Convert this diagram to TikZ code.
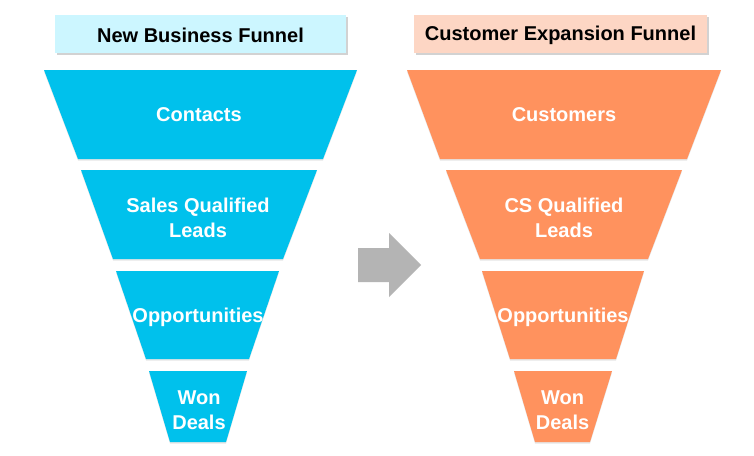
\documentclass[tikz,border=0pt]{standalone}
\usepackage{fontspec}
\setmainfont{Liberation Sans}
\usetikzlibrary{shadows}
\definecolor{funcyan}{RGB}{0,193,236}
\definecolor{funorange}{RGB}{255,146,94}
\definecolor{titlecyan}{RGB}{204,246,255}
\definecolor{titleorange}{RGB}{253,214,196}
\definecolor{arrowgray}{RGB}{180,180,180}
\tikzset{
  titlebox/.style={fill=#1, drop shadow={shadow xshift=2pt, shadow yshift=-2pt, opacity=0.35}},
  stage/.style={fill=#1, drop shadow={shadow xshift=0pt, shadow yshift=-1.5pt, opacity=0.2}},
  titletext/.style={font=\fontsize{20}{24}\selectfont\bfseries, text=black, inner sep=0pt},
  stagetext/.style={font=\fontsize{20}{25}\selectfont\bfseries, text=white, align=center, inner sep=0pt}
}
\begin{document}
\begin{tikzpicture}[x=1pt,y=-1pt]
\useasboundingbox (0,0) rectangle (754,455);
\fill[white] (0,0) rectangle (754,455);
% left title
\path[titlebox=titlecyan] (55,15) rectangle (346,53);
\node[titletext] (t1) at (200.5,35) {New Business Funnel};
% right title
\path[titlebox=titleorange] (414,15) rectangle (707,53);
\node[titletext] (t2) at (560.5,35) {Customer Expansion Funnel};
% left funnel
\path[stage=funcyan] (44,70) -- (357,70) -- (323,159) -- (78,159) -- cycle;
\path[stage=funcyan] (81,170) -- (317,170) -- (283,259) -- (113,259) -- cycle;
\path[stage=funcyan] (116,271) -- (279,271) -- (249,359) -- (146,359) -- cycle;
\path[stage=funcyan] (149,371) -- (247,371) -- (226,442) -- (170,442) -- cycle;
\node[stagetext] (l1) at (199,114.5) {Contacts};
\node[stagetext] (l2) at (198,218) {Sales Qualified\\Leads};
\node[stagetext] (l3) at (198,317) {Opportunities};
\node[stagetext] (l4) at (199,410) {Won\\Deals};
% right funnel
\path[stage=funorange] (407,70) -- (721,70) -- (687,159) -- (440,159) -- cycle;
\path[stage=funorange] (446,170) -- (682,170) -- (648,259) -- (480,259) -- cycle;
\path[stage=funorange] (482,271) -- (644,271) -- (616,359) -- (510,359) -- cycle;
\path[stage=funorange] (514,371) -- (612,371) -- (590,442) -- (535,442) -- cycle;
\node[stagetext] (r1) at (564,114.5) {Customers};
\node[stagetext] (r2) at (564,218) {CS Qualified\\Leads};
\node[stagetext] (r3) at (563,317) {Opportunities};
\node[stagetext] (r4) at (562.5,410) {Won\\Deals};
% arrow
\fill[arrowgray] (358,248) -- (389,248) -- (389,233) -- (421,265) -- (389,297) -- (389,282) -- (358,282) -- cycle;
\end{tikzpicture}
\end{document}
